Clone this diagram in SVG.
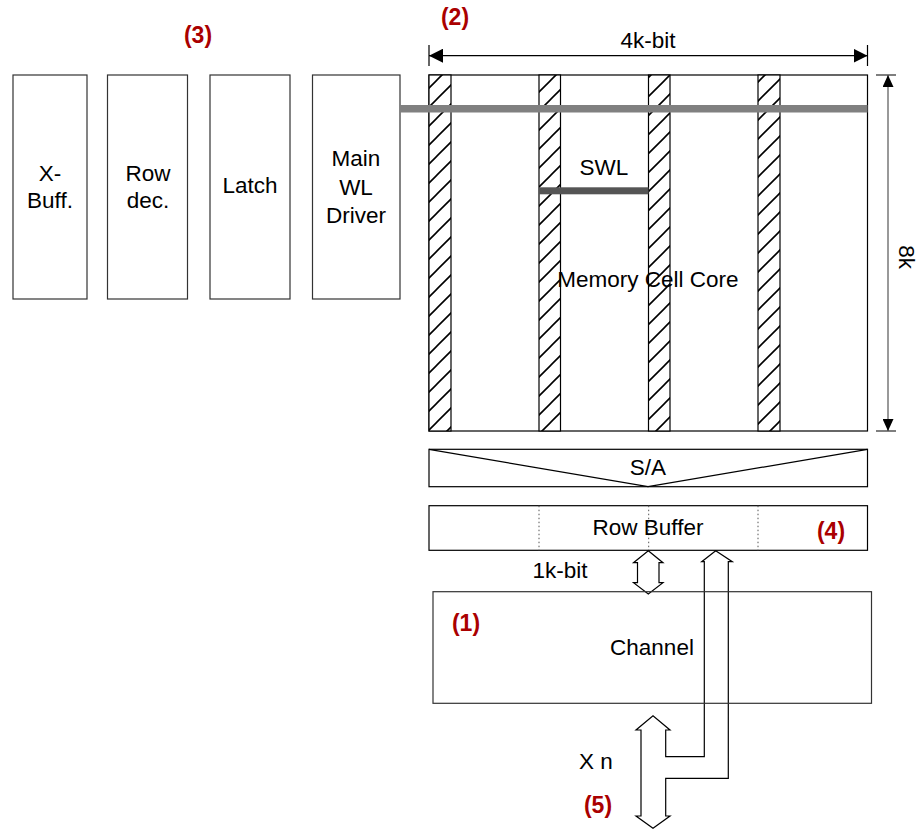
<svg xmlns="http://www.w3.org/2000/svg" width="921" height="830" viewBox="0 0 921 830">
<style>
.box{fill:#fff;stroke:#333;stroke-width:1.2}
.t{font-family:"Liberation Sans",Arial,sans-serif;font-size:22.5px;fill:#000;text-anchor:middle}
.r{font-family:"Liberation Sans",Arial,sans-serif;font-size:23px;font-weight:bold;fill:#aa0000;text-anchor:middle}
.ln{stroke:#000;stroke-width:1.2;fill:none}
.strip{fill:url(#hatch);stroke:#000;stroke-width:1.2}
</style>
<defs>
<pattern id="hatch" patternUnits="userSpaceOnUse" width="19" height="19" y="4">
<rect width="19" height="19" fill="#fff"/>
<path d="M-2,21 L21,-2 M-2,2 L2,-2 M17,21 L21,17" stroke="#000" stroke-width="1.6"/>
</pattern>
<marker id="ah" viewBox="0 0 14 14" refX="14" refY="7" markerWidth="14" markerHeight="14" markerUnits="userSpaceOnUse" orient="auto-start-reverse">
<path d="M0,0 L14,7 L0,14 z" fill="#000"/>
</marker>
<marker id="ah2" viewBox="0 0 12 11" refX="12" refY="5.5" markerWidth="12" markerHeight="11" markerUnits="userSpaceOnUse" orient="auto-start-reverse">
<path d="M0,0 L12,5.5 L0,11 z" fill="#000"/>
</marker>
</defs>

<g id="xbuff">
<rect class="box" x="13" y="75" width="74" height="224"/>
<text class="t" x="50" y="181">X-</text>
<text class="t" x="50" y="208">Buff.</text>
</g>
<g id="rowdec">
<rect class="box" x="107.5" y="75" width="80" height="224"/>
<text class="t" x="148" y="181">Row</text>
<text class="t" x="148" y="208">dec.</text>
</g>
<g id="latch">
<rect class="box" x="210" y="75" width="80" height="224"/>
<text class="t" x="250" y="193">Latch</text>
</g>
<g id="mainwl">
<rect class="box" x="312.5" y="75" width="87.5" height="224"/>
<text class="t" x="356" y="166">Main</text>
<text class="t" x="356" y="195">WL</text>
<text class="t" x="356" y="223">Driver</text>
</g>

<g id="core">
<rect x="429" y="75" width="438.5" height="356" fill="#fff" stroke="#000" stroke-width="1.2"/>
<rect class="strip" x="429" y="75" width="22" height="356"/>
<rect class="strip" x="539" y="75" width="21.5" height="356"/>
<rect class="strip" x="648.5" y="75" width="21.5" height="356"/>
<rect class="strip" x="758" y="75" width="22" height="356"/>
<rect x="400" y="105" width="467.5" height="7.5" fill="#808080"/>
<rect x="539" y="187.3" width="109.5" height="7" fill="#555"/>
<text class="t" x="604" y="175">SWL</text>
<text class="t" x="648" y="287">Memory Cell Core</text>
</g>

<g id="sa">
<rect x="429" y="449.3" width="438.5" height="37.4" fill="#fff" stroke="#000" stroke-width="1.2"/>
<path class="ln" d="M429,449.3 L648,486.7 L867.5,449.3"/>
<text class="t" x="648" y="475">S/A</text>
</g>

<g id="rowbuffer">
<rect x="429" y="505.7" width="438.5" height="44.6" fill="#fff" stroke="#000" stroke-width="1.2"/>
<path d="M539,505.7 V550.3 M648.7,505.7 V550.3 M758,505.7 V550.3" stroke="#555" stroke-width="1" stroke-dasharray="1.5,2.5"/>
<text class="t" x="648" y="535">Row Buffer</text>
<text class="r" x="831" y="539">(4)</text>
</g>

<g id="connectors">
<path class="ln" d="M429,45 V66 M867.5,45 V66"/>
<line x1="429" y1="55.7" x2="867.5" y2="55.7" stroke="#000" stroke-width="1.2" marker-start="url(#ah)" marker-end="url(#ah)"/>
<path d="M876,75 H896 M876,431 H896" stroke="#000" stroke-width="1.2"/>
<line x1="888" y1="75" x2="888" y2="431" stroke="#555" stroke-width="1.2" marker-start="url(#ah2)" marker-end="url(#ah2)"/>
<path class="ln" d="M648.3,550.7 L663,562.7 L659,562.7 L659,582.7 L663,582.7 L648.3,594 L633.5,582.7 L637.5,582.7 L637.5,562.7 L633.5,562.7 Z" style="fill:#fff"/>
<path class="ln" d="M715.7,550.7 L732.3,561.7 L728.3,561.7 L728.3,778.3 L665.7,778.3 L665.7,816 L670,816 L653,828.3 L636,816 L641,816 L641,730 L636,730 L653,715.7 L670,730 L665.7,730 L665.7,756.7 L704.3,756.7 L704.3,561.7 L701.7,561.7 Z"/>
</g>

<g id="channel">
<rect x="433" y="591.7" width="438.5" height="111.6" fill="none" stroke="#333" stroke-width="1.2"/>
<text class="t" x="652" y="655">Channel</text>
<text class="r" x="466" y="631">(1)</text>
</g>

<g id="labels">
<text class="t" x="648" y="48">4k-bit</text>
<text class="t" transform="translate(899,257) rotate(90)">8k</text>
<text class="t" x="560" y="578">1k-bit</text>
<text class="t" x="596" y="769">X n</text>
<text class="r" x="198" y="43">(3)</text>
<text class="r" x="455" y="25">(2)</text>
<text class="r" x="598" y="813">(5)</text>
</g>
</svg>
